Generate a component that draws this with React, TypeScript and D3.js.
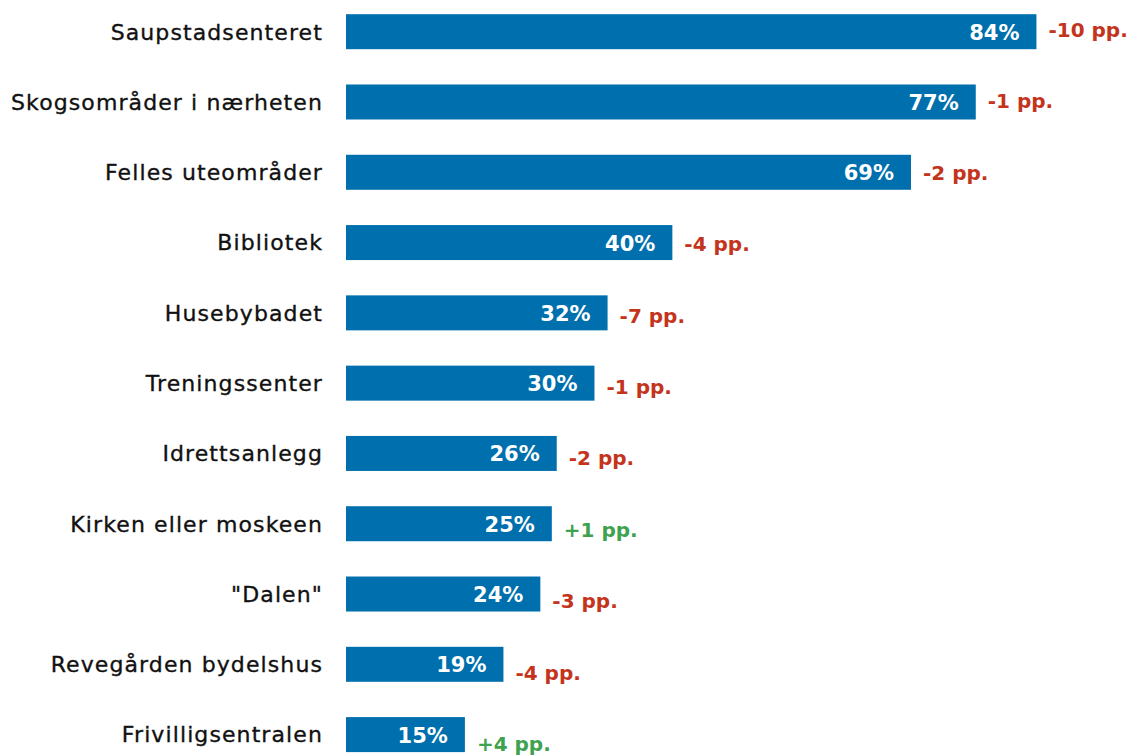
import { scaleLinear, scalePoint } from 'd3';
import React from 'react';

const categories = [
  'Saupstadsenteret',
  'Skogsområder i nærheten',
  'Felles uteområder',
  'Bibliotek',
  'Husebybadet',
  'Treningssenter',
  'Idrettsanlegg',
  'Kirken eller moskeen',
  '"Dalen"',
  'Revegården bydelshus',
  'Frivilligsentralen',
];

// share (%), labels show rounded value
const shares = [84.2, 76.8, 68.9, 39.8, 31.9, 30.3, 25.7, 25.1, 23.7, 19.2, 14.5];

// change since last survey, percentage points
const changes = [-10, -1, -2, -4, -7, -1, -2, 1, -3, -4, 4];

const WIDTH = 1135;
const HEIGHT = 756;
const BAR_H = 35;
const FONT = "'DejaVu Sans', sans-serif";

const App = () => {
  const x = scaleLinear().domain([0, 100]).range([346, 1166]);
  const y = scalePoint<string>().domain(categories).range([31.7, 734.6]);
  // change labels drift slightly downward in the original
  const yChange = scalePoint<string>().domain(categories).range([37, 751]);

  return (
    <svg
      width={WIDTH}
      height={HEIGHT}
      style={{ position: 'absolute', left: 0, top: 0, background: '#fff' }}
      fontFamily={FONT}
    >
      {categories.map((c, i) => {
        const cy = y(c)!;
        const end = x(shares[i]);
        const ch = changes[i];
        return (
          <g key={c}>
            <text
              x={323}
              y={cy + 7.8}
              textAnchor="end"
              fontSize={22}
              letterSpacing={1.1}
              fill="#111"
              stroke="#111"
              strokeWidth={0.35}
            >
              {c}
            </text>
            <rect
              x={x(0)}
              y={cy - BAR_H / 2}
              width={end - x(0)}
              height={BAR_H}
              fill="#006fad"
            />
            <text
              x={end - 17}
              y={cy + 8}
              textAnchor="end"
              fontSize={21}
              fontWeight={700}
              fill="#fff"
            >
              {Math.round(shares[i])}%
            </text>
            <text
              x={end + 12}
              y={yChange(c)!}
              fontSize={20}
              fontWeight={700}
              fill={ch > 0 ? '#3ea24f' : '#c4341c'}
            >
              {(ch > 0 ? '+' : '') + ch} pp.
            </text>
          </g>
        );
      })}
    </svg>
  );
};

export default App;
